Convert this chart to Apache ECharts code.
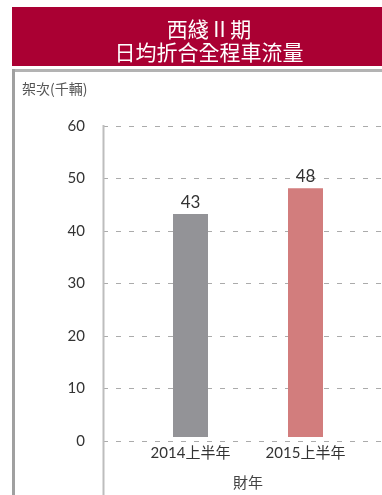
<!DOCTYPE html>
<html>
<head>
<meta charset="utf-8">
<script src="https://cdn.jsdelivr.net/npm/echarts@6/dist/echarts.min.js"></script>
<style>
  html, body { margin: 0; padding: 0; background: #fff; }
  #chart { width: 382px; height: 495px; }
</style>
</head>
<body>
<div id="chart"></div>
<script>
// Traffic data: daily average equivalent full-trip vehicles (thousands)
const categories = ['2014上半年', '2015上半年'];
const values = [43, 48];
const barColors = ['#939397', '#D27D7D'];
const yTicks = { min: 0, max: 60, interval: 10 };

const titleLines = ['西綫 II 期', '日均折合全程車流量'];
const yAxisName = '架次(千輛)';
const xAxisName = '財年';

const numFont = 'Lato, "Noto Sans CJK TC", sans-serif';
const cjkFont = '"Noto Sans CJK TC", "Noto Sans", sans-serif';

const chart = echarts.init(document.getElementById('chart'), null, { renderer: 'canvas' });

const gridTop = 126, gridBottom = 54;

chart.setOption({
  animation: false,
  title: {
    text: titleLines.join('\n'),
    left: 204,
    top: 13,
    textAlign: 'center',
    textStyle: {
      color: '#ffffff',
      fontFamily: cjkFont,
      fontSize: 21,
      fontWeight: 'normal',
      lineHeight: 23
    }
  },
  graphic: [
    // banner
    { type: 'rect', z: -10, shape: { x: 12, y: 7, width: 370, height: 59 }, style: { fill: '#AA0033' } },
    // frame top and left borders
    { type: 'rect', z: -10, shape: { x: 12, y: 69, width: 370, height: 3 }, style: { fill: '#B3B3B3' } },
    { type: 'rect', z: -10, shape: { x: 12, y: 69, width: 3, height: 426 }, style: { fill: '#A0A0A0' } },
    // vertical axis line running to the bottom edge
    { type: 'line', z: 5, shape: { x1: 103.5, y1: 125, x2: 103.5, y2: 495 }, style: { stroke: '#BDBDBD', lineWidth: 2 } },
    // y axis unit
    { type: 'text', left: 22, top: 82, style: { text: yAxisName, fill: '#555555', font: '14px ' + cjkFont } }
  ],
  grid: [
    { left: 103, right: 0, top: gridTop, bottom: gridBottom },
    { left: 133, right: 19, top: gridTop, bottom: gridBottom }
  ],
  xAxis: [
    { type: 'category', gridIndex: 0, data: categories, show: false },
    {
      type: 'category', gridIndex: 1, data: categories,
      axisLine: { show: false }, axisTick: { show: false },
      axisLabel: { color: '#333333', fontSize: 15, fontFamily: numFont, margin: 9 },
      name: xAxisName, nameLocation: 'middle', nameGap: 38,
      nameTextStyle: { color: '#444444', fontSize: 15, fontFamily: cjkFont }
    }
  ],
  yAxis: [
    {
      type: 'value', gridIndex: 0,
      min: yTicks.min, max: yTicks.max, interval: yTicks.interval,
      axisLine: { show: false }, axisTick: { show: false },
      axisLabel: { color: '#333333', fontSize: 15, fontFamily: numFont, margin: 18 },
      splitLine: { show: true, lineStyle: { color: '#ABABAB', width: 1.2, type: [5, 8] } }
    },
    {
      type: 'value', gridIndex: 1,
      min: yTicks.min, max: yTicks.max, interval: yTicks.interval,
      show: false, splitLine: { show: false }
    }
  ],
  series: [{
    type: 'bar',
    xAxisIndex: 1, yAxisIndex: 1,
    barWidth: 35,
    z: 3,
    data: values.map((v, i) => ({ value: v, itemStyle: { color: barColors[i] } })),
    label: {
      show: true, position: 'top', distance: 3,
      color: '#333333', fontSize: 17, fontFamily: numFont
    }
  }]
});
</script>
</body>
</html>
